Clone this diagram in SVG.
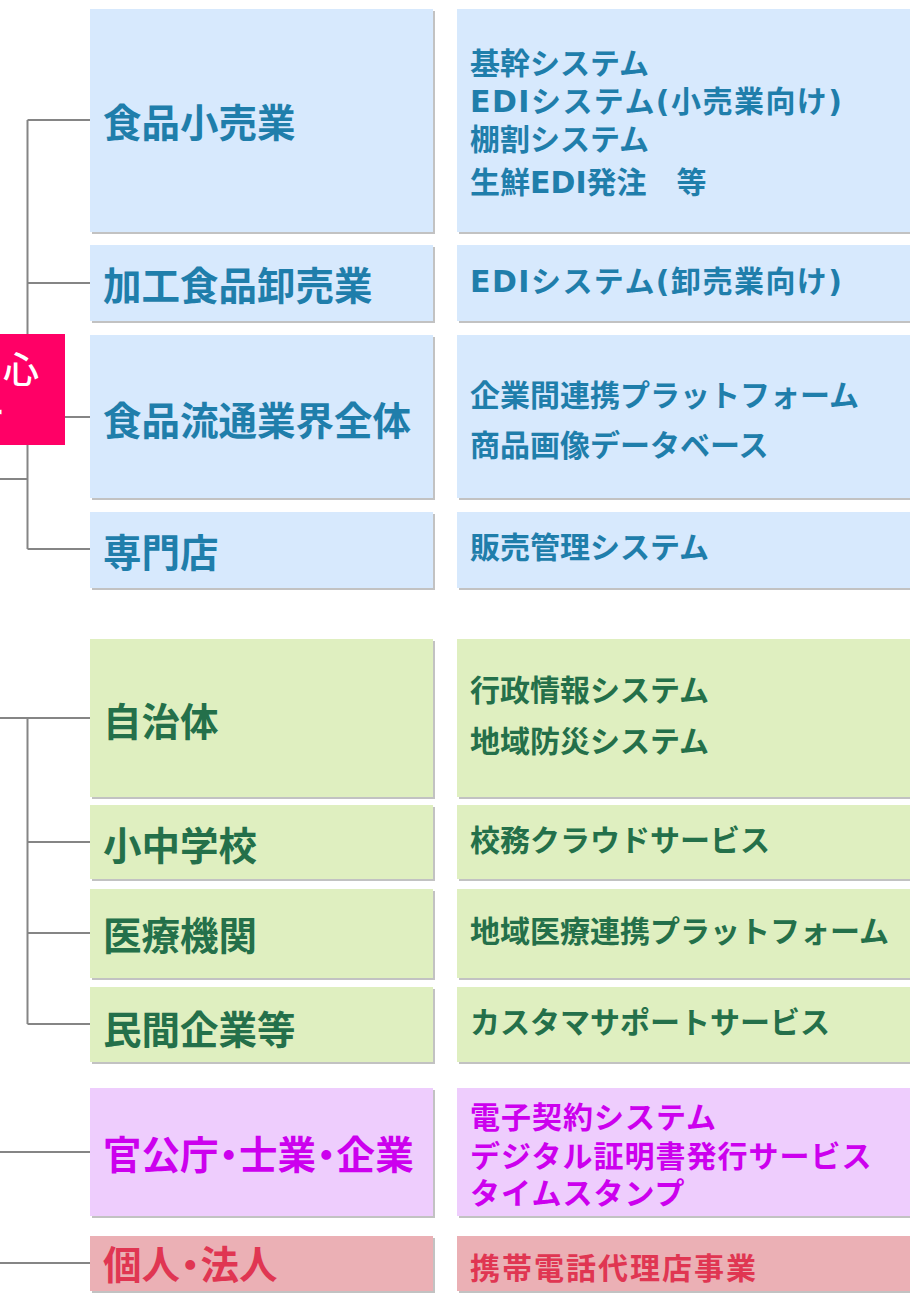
<svg xmlns="http://www.w3.org/2000/svg" width="910" height="1296" viewBox="0 0 910 1296">
<style>
text{font-family:"Noto Sans CJK JP","Noto Sans",sans-serif;font-weight:bold}
.sh{fill:#c2c2c2}
.lbl{font-size:38.5px}
.sub{font-size:30px;font-family:"DejaVu Sans","Noto Sans CJK JP",sans-serif}
.b{fill:#d7e9fd}.bt{fill:#1f7eab}
.g{fill:#dfefc0}.gt{fill:#24704a}
.p{fill:#eecdfd}.pt{fill:#cc00ee}
.r{fill:#ebb0b5}.rt{fill:#e03652}
.ln{stroke:#858585;stroke-width:2;fill:none}
</style>
<g id="connectors">
<path class="ln" d="M27.5 120V549M27.5 120H90M27.5 283H90M27.5 417H90M27.5 549H90M0 479H27.5"/>
<path class="ln" d="M0 718H90M27.5 718V1024M27.5 842H90M27.5 933H90M27.5 1024H90"/>
<path class="ln" d="M0 1152H90M0 1263H90"/>
</g>
<g id="root">
<rect x="0" y="334" width="65" height="111" fill="#ff0066"/>
<text x="39" y="383" text-anchor="end" font-size="36" fill="#fff" style="font-weight:500">心</text>
<text x="5" y="426" text-anchor="end" font-size="36" fill="#fff" style="font-weight:500">ー</text>
</g>
<g id="n1">
<rect class="sh" x="92" y="11" width="343" height="223"/><rect class="b" x="90" y="9" width="343" height="223"/>
<text class="lbl bt" x="103" y="137">食品小売業</text>
</g>
<g id="s1">
<rect class="sh" x="459" y="11" width="460" height="223"/><rect class="b" x="457" y="9" width="460" height="223"/>
<text class="sub bt" x="470" y="74">基幹システム</text>
<text class="sub bt" x="470" y="112" textLength="372" lengthAdjust="spacing">EDIシステム(小売業向け)</text>
<text class="sub bt" x="470" y="150">棚割システム</text>
<text class="sub bt" x="470" y="193">生鮮EDI発注　等</text>
</g>
<g id="n2">
<rect class="sh" x="92" y="247" width="343" height="76"/><rect class="b" x="90" y="245" width="343" height="76"/>
<text class="lbl bt" x="103" y="300">加工食品卸売業</text>
</g>
<g id="s2">
<rect class="sh" x="459" y="247" width="460" height="76"/><rect class="b" x="457" y="245" width="460" height="76"/>
<text class="sub bt" x="470" y="292" textLength="372" lengthAdjust="spacing">EDIシステム(卸売業向け)</text>
</g>
<g id="n3">
<rect class="sh" x="92" y="337" width="343" height="163"/><rect class="b" x="90" y="335" width="343" height="163"/>
<text class="lbl bt" x="103" y="435">食品流通業界全体</text>
</g>
<g id="s3">
<rect class="sh" x="459" y="337" width="460" height="163"/><rect class="b" x="457" y="335" width="460" height="163"/>
<text class="sub bt" x="470" y="406">企業間連携プラットフォーム</text>
<text class="sub bt" x="470" y="456">商品画像データベース</text>
</g>
<g id="n4">
<rect class="sh" x="92" y="514" width="343" height="76"/><rect class="b" x="90" y="512" width="343" height="76"/>
<text class="lbl bt" x="103" y="567">専門店</text>
</g>
<g id="s4">
<rect class="sh" x="459" y="514" width="460" height="76"/><rect class="b" x="457" y="512" width="460" height="76"/>
<text class="sub bt" x="470" y="558">販売管理システム</text>
</g>
<g id="n5">
<rect class="sh" x="92" y="641" width="343" height="158"/><rect class="g" x="90" y="639" width="343" height="158"/>
<text class="lbl gt" x="103" y="736">自治体</text>
</g>
<g id="s5">
<rect class="sh" x="459" y="641" width="460" height="158"/><rect class="g" x="457" y="639" width="460" height="158"/>
<text class="sub gt" x="470" y="701">行政情報システム</text>
<text class="sub gt" x="470" y="752">地域防災システム</text>
</g>
<g id="n6">
<rect class="sh" x="92" y="807" width="343" height="74"/><rect class="g" x="90" y="805" width="343" height="74"/>
<text class="lbl gt" x="103" y="860">小中学校</text>
</g>
<g id="s6">
<rect class="sh" x="459" y="807" width="460" height="74"/><rect class="g" x="457" y="805" width="460" height="74"/>
<text class="sub gt" x="470" y="851">校務クラウドサービス</text>
</g>
<g id="n7">
<rect class="sh" x="92" y="891" width="343" height="89"/><rect class="g" x="90" y="889" width="343" height="89"/>
<text class="lbl gt" x="103" y="950">医療機関</text>
</g>
<g id="s7">
<rect class="sh" x="459" y="891" width="460" height="89"/><rect class="g" x="457" y="889" width="460" height="89"/>
<text class="sub gt" x="470" y="942">地域医療連携プラットフォーム</text>
</g>
<g id="n8">
<rect class="sh" x="92" y="989" width="343" height="75"/><rect class="g" x="90" y="987" width="343" height="75"/>
<text class="lbl gt" x="103" y="1044">民間企業等</text>
</g>
<g id="s8">
<rect class="sh" x="459" y="989" width="460" height="75"/><rect class="g" x="457" y="987" width="460" height="75"/>
<text class="sub gt" x="470" y="1033">カスタマサポートサービス</text>
</g>
<g id="n9">
<rect class="sh" x="92" y="1090" width="343" height="128"/><rect class="p" x="90" y="1088" width="343" height="128"/>
<text class="lbl pt" x="103" y="1169" dx="0 0 0 -9 -9 0 -9 -9 0">官公庁・士業・企業</text>
</g>
<g id="s9">
<rect class="sh" x="459" y="1090" width="460" height="128"/><rect class="p" x="457" y="1088" width="460" height="128"/>
<text class="sub pt" x="470" y="1128" letter-spacing="1">電子契約システム</text>
<text class="sub pt" x="470" y="1167" letter-spacing="1">デジタル証明書発行サービス</text>
<text class="sub pt" x="470" y="1204" letter-spacing="1">タイムスタンプ</text>
</g>
<g id="n10">
<rect class="sh" x="92" y="1238" width="343" height="55"/><rect class="r" x="90" y="1236" width="343" height="55"/>
<text class="lbl rt" x="103" y="1279" dx="0 0 -9 -9 0">個人・法人</text>
</g>
<g id="s10">
<rect class="sh" x="459" y="1238" width="460" height="55"/><rect class="r" x="457" y="1236" width="460" height="55"/>
<text class="sub rt" x="470" y="1279" letter-spacing="2">携帯電話代理店事業</text>
</g>
</svg>
